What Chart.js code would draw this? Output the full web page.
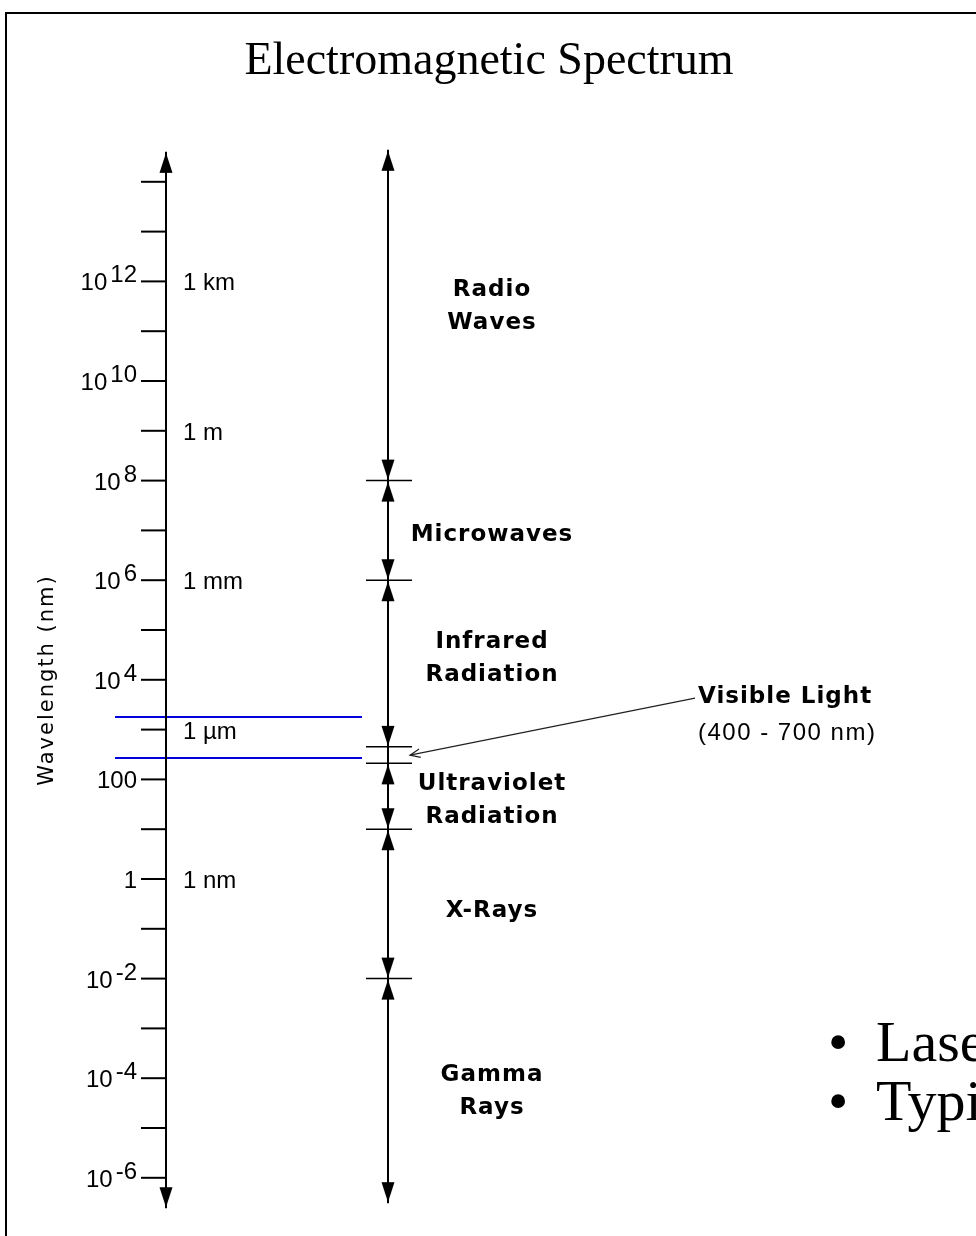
<!DOCTYPE html>
<html lang="en">
<head>
    <meta charset="UTF-8">
    <title>Electromagnetic Spectrum</title>
    <script src="https://cdn.jsdelivr.net/npm/chart.js"></script>
    <style>
        body {
            margin: 0;
            padding: 0;
            background: #fff;
        }
        #chart-container {
            width: 976px;
            height: 1236px;
        }
    </style>
</head>
<body>
    <div id="chart-container">
        <canvas id="spectrumChart" width="976" height="1236"></canvas>
    </div>

    <script>
        // wavelength values are in nm, on a log scale
        const tickValues = [1e14, 1e13, 1e12, 1e11, 1e10, 1e9, 1e8, 1e7, 1e6, 1e5, 1e4, 1e3, 1e2, 1e1, 1, 1e-1, 1e-2, 1e-3, 1e-4, 1e-5, 1e-6];
        const tickLabelValues = [1e12, 1e10, 1e8, 1e6, 1e4, 100, 1, 1e-2, 1e-4, 1e-6];
        const tickLabelBase = ['10', '10', '10', '10', '10', '100', '1', '10', '10', '10'];
        const tickLabelExp = ['12', '10', '8', '6', '4', '', '', '-2', '-4', '-6'];

        const unitValues = [1e12, 1e9, 1e6, 1e3, 1];
        const unitNames = ['1 km', '1 m', '1 mm', '1 \u00b5m', '1 nm'];

        // left scale arrow ends, right (band) arrow ends
        const leftAxisEnds = [4.0e14, 2.45e-7];
        const rightAxisEnds = [4.4e14, 3.1e-7];

        // band boundaries from long to short wavelength
        const bandBoundaries = [1e8, 1e6, 450, 210, 10, 1e-2];
        const bandNames = [
            ['Radio', 'Waves'],
            ['Microwaves'],
            ['Infrared', 'Radiation'],
            [],
            ['Ultraviolet', 'Radiation'],
            ['X-Rays'],
            ['Gamma', 'Rays']
        ];
        // where each band name sits on the scale
        const bandLabelAt = [3.4e11, 8.9e6, 2.9e4, null, 42, 0.25, 5.8e-5];

        // blue marker lines
        const blueLines = [1800, 270];

        // pointer to the visible band
        const visibleArrow = [4270, 307];
        const visibleLabel = ['Visible Light', '(400 - 700 nm)'];

        const titleText = 'Electromagnetic Spectrum';
        const axisTitle = 'Wavelength (nm)';
        const bulletLines = ['Lasers', 'Typical'];

        // page layout
        const PX_PER_DECADE = 49.8;
        const ONE_NM_Y = 879;
        const LEFT_X = 166;
        const RIGHT_X = 388;
        const TICK_FONT = '24px "Liberation Sans"';

        const yMax = Math.pow(10, ONE_NM_Y / PX_PER_DECADE);
        const yMin = Math.pow(10, -(1236 - ONE_NM_Y) / PX_PER_DECADE);

        function arrowHead(up) {
            const c = document.createElement('canvas');
            c.width = 14;
            c.height = 44;
            const g = c.getContext('2d');
            g.fillStyle = '#000';
            g.beginPath();
            if (up) {
                g.moveTo(7, 23);
                g.lineTo(13.5, 43);
                g.lineTo(0.5, 43);
            } else {
                g.moveTo(7, 21);
                g.lineTo(13.5, 1);
                g.lineTo(0.5, 1);
            }
            g.closePath();
            g.fill();
            return c;
        }
        const upHead = arrowHead(true);
        const downHead = arrowHead(false);

        function segment(x1, x2, y, color, width) {
            return {
                data: [{ x: x1, y: y }, { x: x2, y: y }],
                showLine: true,
                borderColor: color,
                borderWidth: width,
                pointRadius: 0
            };
        }

        const datasets = [];

        // the two vertical axes
        datasets.push({
            data: [{ x: LEFT_X, y: leftAxisEnds[0] }, { x: LEFT_X, y: leftAxisEnds[1] }],
            showLine: true, borderColor: '#000', borderWidth: 2, pointRadius: 0
        });
        datasets.push({
            data: [{ x: RIGHT_X, y: rightAxisEnds[0] }, { x: RIGHT_X, y: rightAxisEnds[1] }],
            showLine: true, borderColor: '#000', borderWidth: 2, pointRadius: 0
        });

        // decade ticks
        tickValues.forEach(v => datasets.push(segment(LEFT_X - 25, LEFT_X, v, '#000', 2)));

        // band boundaries
        bandBoundaries.forEach(v => datasets.push(segment(RIGHT_X - 22, RIGHT_X + 24, v, '#000', 1.5)));

        // blue lines
        blueLines.forEach(v => datasets.push(segment(115, 362, v, '#0000dd', 2)));

        // arrow heads
        const bandEdges = [rightAxisEnds[0]].concat(bandBoundaries, [rightAxisEnds[1]]);
        const upPts = [{ x: LEFT_X, y: leftAxisEnds[0] }];
        const downPts = [{ x: LEFT_X, y: leftAxisEnds[1] }];
        bandNames.forEach((name, i) => {
            if (name.length === 0) return;
            upPts.push({ x: RIGHT_X, y: bandEdges[i] });
            downPts.push({ x: RIGHT_X, y: bandEdges[i + 1] });
        });
        datasets.push({ data: upPts, pointStyle: upHead, pointRadius: 7, showLine: false });
        datasets.push({ data: downPts, pointStyle: downHead, pointRadius: 7, showLine: false });

        // pointer to the visible band
        datasets.push({
            data: [{ x: 695, y: visibleArrow[0] }, { x: 410, y: visibleArrow[1] }],
            showLine: true, borderColor: '#222', borderWidth: 1.2, pointRadius: 0
        });
        const pointerIndex = datasets.length - 1;

        const drawingPlugin = {
            id: 'drawing',
            beforeDraw(chart) {
                const ctx = chart.ctx;
                ctx.save();
                ctx.fillStyle = '#fff';
                ctx.fillRect(0, 0, chart.width, chart.height);
                ctx.strokeStyle = '#000';
                ctx.lineWidth = 2;
                ctx.beginPath();
                ctx.moveTo(6, chart.height);
                ctx.lineTo(6, 13);
                ctx.lineTo(chart.width, 13);
                ctx.stroke();
                ctx.restore();
            },
            afterDatasetsDraw(chart) {
                const ctx = chart.ctx;
                const ys = chart.scales.y;
                ctx.save();
                ctx.fillStyle = '#000';

                // title
                ctx.font = '46px "Liberation Serif"';
                ctx.textAlign = 'center';
                ctx.textBaseline = 'alphabetic';
                ctx.fillText(titleText, 489, 74);

                // axis title
                const midY = (ys.getPixelForValue(leftAxisEnds[0]) + ys.getPixelForValue(leftAxisEnds[1])) / 2;
                ctx.save();
                ctx.translate(48, midY);
                ctx.rotate(-Math.PI / 2);
                ctx.font = '21px "DejaVu Sans"';
                ctx.letterSpacing = '2px';
                ctx.textBaseline = 'middle';
                ctx.fillText(axisTitle, 0, 0);
                ctx.restore();

                // tick labels with superscripts
                ctx.font = TICK_FONT;
                ctx.textAlign = 'right';
                tickLabelValues.forEach((v, i) => {
                    const py = ys.getPixelForValue(v);
                    let right = 137;
                    if (tickLabelExp[i]) {
                        ctx.fillText(tickLabelExp[i], right, py + 1);
                        right -= ctx.measureText(tickLabelExp[i]).width + 3;
                    }
                    ctx.fillText(tickLabelBase[i], right, py + 9);
                });

                // unit names
                ctx.textAlign = 'left';
                unitValues.forEach((v, i) => {
                    ctx.fillText(unitNames[i], 183, ys.getPixelForValue(v) + 9);
                });

                // band names
                ctx.font = 'bold 23px "DejaVu Sans"';
                ctx.letterSpacing = '1px';
                ctx.textAlign = 'center';
                bandNames.forEach((name, i) => {
                    if (name.length === 0) return;
                    const mid = ys.getPixelForValue(bandLabelAt[i]);
                    name.forEach((line, j) => {
                        const cy = mid + (j - (name.length - 1) / 2) * 33;
                        ctx.fillText(line, 492, cy + 8);
                    });
                });

                // visible light pointer head and label
                const pts = chart.getDatasetMeta(pointerIndex).data;
                const a = pts[0], b = pts[1];
                const ang = Math.atan2(b.y - a.y, b.x - a.x);
                ctx.strokeStyle = '#222';
                ctx.lineWidth = 1.2;
                ctx.beginPath();
                ctx.moveTo(b.x - 11 * Math.cos(ang - 0.4), b.y - 11 * Math.sin(ang - 0.4));
                ctx.lineTo(b.x, b.y);
                ctx.lineTo(b.x - 11 * Math.cos(ang + 0.4), b.y - 11 * Math.sin(ang + 0.4));
                ctx.stroke();

                ctx.textAlign = 'left';
                ctx.fillText(visibleLabel[0], a.x + 3, a.y + 5);
                ctx.font = TICK_FONT;
                ctx.letterSpacing = '1.5px';
                ctx.fillText(visibleLabel[1], a.x + 3, a.y + 42);

                // bullet text at the lower right
                ctx.letterSpacing = '0px';
                ctx.font = '58px "Liberation Serif"';
                bulletLines.forEach((t, i) => {
                    const base = 1061 + i * 59;
                    ctx.fillText('\u2022', 828, base);
                    ctx.fillText(t, 876, base);
                });
                ctx.restore();
            }
        };

        new Chart(document.getElementById('spectrumChart'), {
            type: 'scatter',
            data: { datasets: datasets },
            options: {
                responsive: false,
                devicePixelRatio: 1,
                animation: false,
                events: [],
                layout: { padding: 0, autoPadding: false },
                plugins: {
                    legend: { display: false },
                    title: { display: false },
                    tooltip: { enabled: false }
                },
                scales: {
                    x: { type: 'linear', display: false, min: 0, max: 976, bounds: 'data' },
                    y: { type: 'logarithmic', display: false, min: yMin, max: yMax, bounds: 'data' }
                }
            },
            plugins: [drawingPlugin]
        });
    </script>
</body>
</html>
